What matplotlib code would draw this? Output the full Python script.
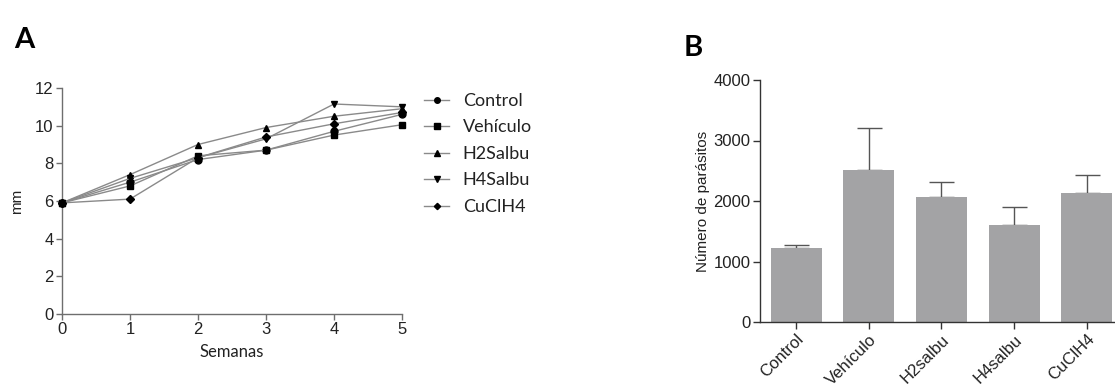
import numpy as np
import matplotlib
matplotlib.use("Agg")
import matplotlib.pyplot as plt

# Panel A: grosor (mm) por semana
semanas = [0, 1, 2, 3, 4, 5]
grupos_a = ["Control", "Vehículo", "H2Salbu", "H4Salbu", "CuClH4"]
control = [5.9, 7.0, 8.2, 8.7, 9.7, 10.6]
vehiculo = [5.9, 6.8, 8.4, 8.7, 9.5, 10.05]
h2salbu = [5.9, 7.4, 9.0, 9.9, 10.5, 10.9]
h4salbu = [5.9, 7.2, 8.3, 9.3, 11.15, 11.0]
cuclh4 = [5.9, 6.1, 8.3, 9.4, 10.1, 10.7]
series_a = [control, vehiculo, h2salbu, h4salbu, cuclh4]
marcadores = ["o", "s", "^", "v", "D"]
tamanos = [5, 5, 5, 5, 4]

# Panel B: número de parásitos
grupos_b = ["Control", "Vehículo", "H2salbu", "H4salbu", "CuClH4"]
parasitos = [1225, 2510, 2065, 1600, 2125]
error_sup = [50, 690, 255, 305, 305]

gris_eje = "#6e6e6e"
texto = "#222222"

fig = plt.figure(figsize=(11.15, 3.84), dpi=100)

# ---- Panel A ----
ax1 = fig.add_axes([62 / 1115, 70 / 384, 340 / 1115, 226 / 384])
for datos, nombre, m, s in zip(series_a, grupos_a, marcadores, tamanos):
    ax1.plot(semanas, datos, color="#8a8a8a", linewidth=1.0, marker=m,
             markersize=s, markerfacecolor="black", markeredgecolor="black",
             label=nombre, clip_on=False, zorder=3)
ax1.set_xlim(0, 5)
ax1.set_ylim(0, 12)
ax1.set_xticks(range(6))
ax1.set_yticks(range(0, 13, 2))
ax1.spines["top"].set_visible(False)
ax1.spines["right"].set_visible(False)
for lado in ["left", "bottom"]:
    ax1.spines[lado].set_color(gris_eje)
    ax1.spines[lado].set_linewidth(1.0)
ax1.tick_params(colors=gris_eje, labelcolor=texto, labelsize=12,
                length=4, width=1.0, pad=2)
for t in ax1.get_xticklabels() + ax1.get_yticklabels():
    t.set_fontfamily("Liberation Sans")
ax1.set_ylabel("mm", fontsize=11, color=texto, family="Liberation Sans",
               labelpad=8)
ax1.set_xlabel("Semanas", fontsize=12, color=texto, family="Lato",
               labelpad=5)

leg = fig.legend(loc="upper left", bbox_to_anchor=(424 / 1115, 1 - 93 / 384),
                 frameon=False, handlelength=1.4, handletextpad=0.75,
                 labelspacing=0.58, borderpad=0, borderaxespad=0,
                 markerscale=0.8, prop={"family": "Lato", "size": 13})
for t in leg.get_texts():
    t.set_color(texto)

# ---- Panel B ----
ax2 = fig.add_axes([760 / 1115, 62 / 384, 363 / 1115, 242 / 384])
x = np.arange(len(grupos_b))
ax2.bar(x, parasitos, width=0.7, color="#a3a3a5", zorder=2)
ax2.errorbar(x, parasitos, yerr=[np.zeros(len(x)), error_sup], fmt="none",
             ecolor="#555555", elinewidth=1.0, capsize=9, capthick=1.0,
             zorder=1)
ax2.set_xlim(-0.5, 4.5)
ax2.set_ylim(0, 4000)
ax2.set_yticks([0, 1000, 2000, 3000, 4000])
ax2.set_xticks(x)
ax2.set_xticklabels(grupos_b, rotation=45, ha="right", rotation_mode="anchor",
                    family="Liberation Sans", fontsize=12, color=texto)
for t in ax2.get_yticklabels():
    t.set_fontfamily("Liberation Sans")
ax2.spines["top"].set_visible(False)
ax2.spines["right"].set_visible(False)
for lado in ["left", "bottom"]:
    ax2.spines[lado].set_color("#333333")
    ax2.spines[lado].set_linewidth(1.0)
ax2.tick_params(colors="#333333", labelcolor=texto, labelsize=12,
                length=5, width=1.0, pad=2)
ax2.set_ylabel("Número de parásitos", fontsize=11, color=texto,
               family="Liberation Sans", labelpad=2)

fig.text(14 / 1115, 1 - 48 / 384, "A", fontsize=21, fontweight="bold",
         family="Lato", color="black")
fig.text(684 / 1115, 1 - 56 / 384, "B", fontsize=21, fontweight="bold",
         family="Lato", color="black")

fig.savefig("out.png", dpi=100)
